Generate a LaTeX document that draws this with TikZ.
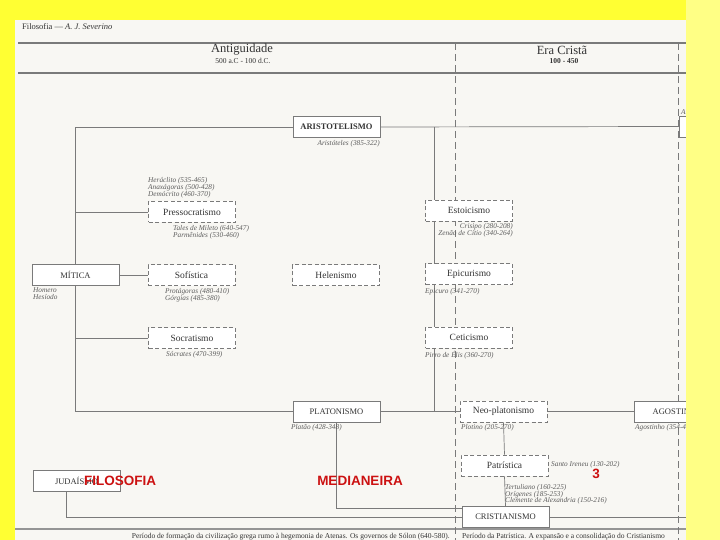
\documentclass[tikz,border=0pt]{standalone}
\usepackage{fontspec}
\setmainfont{Liberation Serif}
\newfontfamily\marksans{Liberation Sans}
\usetikzlibrary{backgrounds}

\definecolor{scanyellow}{HTML}{FFFF33}
\definecolor{stripyellow}{HTML}{FFFF85}
\definecolor{paper}{HTML}{F8F7F3}
\definecolor{ink}{HTML}{333333}
\definecolor{rule}{HTML}{7A7A7A}
\definecolor{overlay}{HTML}{CC1111}

\begin{document}
\begin{tikzpicture}[x=1pt,y=-1pt,
    school/.style={draw=rule, fill=white, line width=0.8pt, minimum width=87pt,
      minimum height=21pt, inner sep=0pt, text=ink, font=\fontsize{9.5}{10}\selectfont},
    caps/.style={school, font=\fontsize{8.5}{10}\selectfont},
    current/.style={school, dash pattern=on 4pt off 2.5pt},
    names/.style={font=\fontsize{7.3}{6.8}\selectfont\itshape, text=ink!80, inner sep=0pt},
    link/.style={draw=rule, line width=0.7pt},
    era/.style={draw=rule, line width=0.8pt, dash pattern=on 7pt off 4pt},
    stamp/.style={font=\marksans\bfseries\fontsize{13.5}{15}\selectfont, text=overlay, inner sep=0pt}]

    \useasboundingbox (0,0) rectangle (720,540);

    % Header
    \node[anchor=west, text=ink, inner sep=0pt, font=\fontsize{8.5}{10}\selectfont]
      (title) at (22,27) {Filosofia --- \textit{A. J. Severino}};
    \node[text=ink, inner sep=0pt, font=\fontsize{12.5}{13}\selectfont] (ant) at (242,50) {Antiguidade};
    \node[text=ink, inner sep=0pt, font=\fontsize{7.5}{8}\selectfont] (antdate) at (243,61) {500 a.C - 100 d.C.};
    \node[text=ink, inner sep=0pt, font=\fontsize{12.5}{13}\selectfont] (era) at (562,50) {Era Cristã};
    \node[text=ink, inner sep=0pt, font=\fontsize{7.5}{8}\selectfont\bfseries] (eradate) at (564,61) {100 - 450};

    % The schools
    \node[caps, font=\fontsize{8.5}{10}\selectfont\bfseries] (arist) at (336.5,127) {ARISTOTELISMO};
    \node[school] (arright) at (722.5,126.5) {};
    \node[current] (pre) at (192,212) {Pressocratismo};
    \node[caps] (mitica) at (75.5,275) {MÍTICA};
    \node[current] (sof) at (191.5,275) {Sofística};
    \node[current] (hel) at (336,275) {Helenismo};
    \node[current] (soc) at (192,338) {Socratismo};
    \node[caps] (plat) at (336.5,411.5) {PLATONISMO};
    \node[current] (estoa) at (469,210.5) {Estoicismo};
    \node[current] (epic) at (469,274) {Epicurismo};
    \node[current] (cet) at (469,337.5) {Ceticismo};
    \node[current] (neo) at (503.5,411.5) {Neo-platonismo};
    \node[caps] (agost) at (677.5,411.5) {AGOSTINHO};
    \node[current] (patr) at (504.5,465.5) {Patrística};
    \node[caps] (jud) at (76.5,481) {JUDAÍSMO};
    \node[caps] (crist) at (505.5,517) {CRISTIANISMO};

    % The philosophers
    \node[names, anchor=north east] (aristn) at (380,140) {Aristóteles (385-322)};
    \node[names, anchor=west] (arrn) at (681,112) {A.};
    \node[names, anchor=south west, align=left] (pren) at (148,198)
      {Heráclito (535-465)\\Anaxágoras (500-428)\\Demócrito (460-370)};
    \node[names, anchor=north west, align=left] (pres) at (173,225)
      {Tales de Mileto (640-547)\\Parmênides (530-460)};
    \node[names, anchor=north west, align=left] (mitn) at (33,288) {Homero\\Hesíodo};
    \node[names, anchor=north west, align=left] (sofn) at (165,288)
      {Protágoras (480-410)\\Górgias (485-380)};
    \node[names, anchor=north west] (socn) at (166,351) {Sócrates (470-399)};
    \node[names, anchor=north west] (platn) at (291,424) {Platão (428-348)};
    \node[names, anchor=north east, align=right] (estoan) at (513,223)
      {Crisipo (280-208)\\Zenão de Cítio (340-264)};
    \node[names, anchor=north west] (epicn) at (425,288) {Epicuro (341-270)};
    \node[names, anchor=north west] (cetn) at (425,351) {Pirro de Élis (360-270)};
    \node[names, anchor=north west] (neon) at (461,424) {Plotino (205-270)};
    \node[names, anchor=north west] (agostn) at (635,424) {Agostinho (354-430)};
    \node[names, anchor=west] (patrn) at (551,465) {Santo Ireneu (130-202)};
    \node[names, anchor=north west, align=left] (patrs) at (505,484)
      {Tertuliano (160-225)\\Orígenes (185-253)\\Clemente de Alexandria (150-216)};

    % Footer
    \node[anchor=base east, text=ink, inner sep=0pt, font=\fontsize{7.5}{9}\selectfont] (footl) at (450,538)
      {Período de formação da civilização grega rumo à hegemonia de Atenas. Os governos de Sólon (640-580).};
    \node[anchor=base west, text=ink, inner sep=0pt, font=\fontsize{7.5}{9}\selectfont] (footr) at (462,538)
      {Período da Patrística. A expansão e a consolidação do Cristianismo};

    % Red marks on top
    \node[stamp] (mark1) at (120,481) {FILOSOFIA};
    \node[stamp] (mark2) at (360,481) {MEDIANEIRA};
    \node[stamp] (mark3) at (596,474) {3};

    \coordinate (stoa) at (434,127);
    \coordinate (crend) at (686,517);

    \begin{scope}[on background layer]
      % the scanned page
      \fill[scanyellow] (0,0) rectangle (720,540);
      \fill[paper] (15,20) rectangle (686,540);
      \draw[rule, line width=1.4pt] (18,43) -- (686,43);
      \draw[rule, line width=1.4pt] (18,73) -- (686,73);
      \draw[rule!80, line width=2pt] (15,529) -- (686,529);
      \draw[era] (455,43) -- (455,540);
      \draw[era] (678,43) -- (678,540);

      % connectors
      \draw[link] (arist.west) -| (mitica.north);
      \draw[link] (pre.west) -- (pre.west -| mitica.north);
      \draw[link] (mitica.east) -- (sof.west);
      \draw[link] (soc.west) -- (soc.west -| mitica.south);
      \draw[link] (mitica.south) |- (plat.west);
      \draw[link] (arist.east) -- (arright.west);
      \draw[link] (stoa) -- (stoa |- plat.east);
      \draw[link] (plat.east) -- (neo.west);
      \draw[link] (neo.east) -- (agost.west);
      \draw[link] (neo.south) -- (patr.north);
      \draw[link] (patr.south) -- (crist.north);
      \draw[link] (plat.south) |- ([yshift=9pt]crist.west);
      \draw[link] ([xshift=-10pt]jud.south) |- (crist.west);
      \draw[link] (crist.east) -- (crend);
    \end{scope}

    % right margin of the scan
    \fill[stripyellow] (686,0) rectangle (720,540);
    \fill[scanyellow] (0,0) rectangle (686,20);

\end{tikzpicture}
\end{document}
